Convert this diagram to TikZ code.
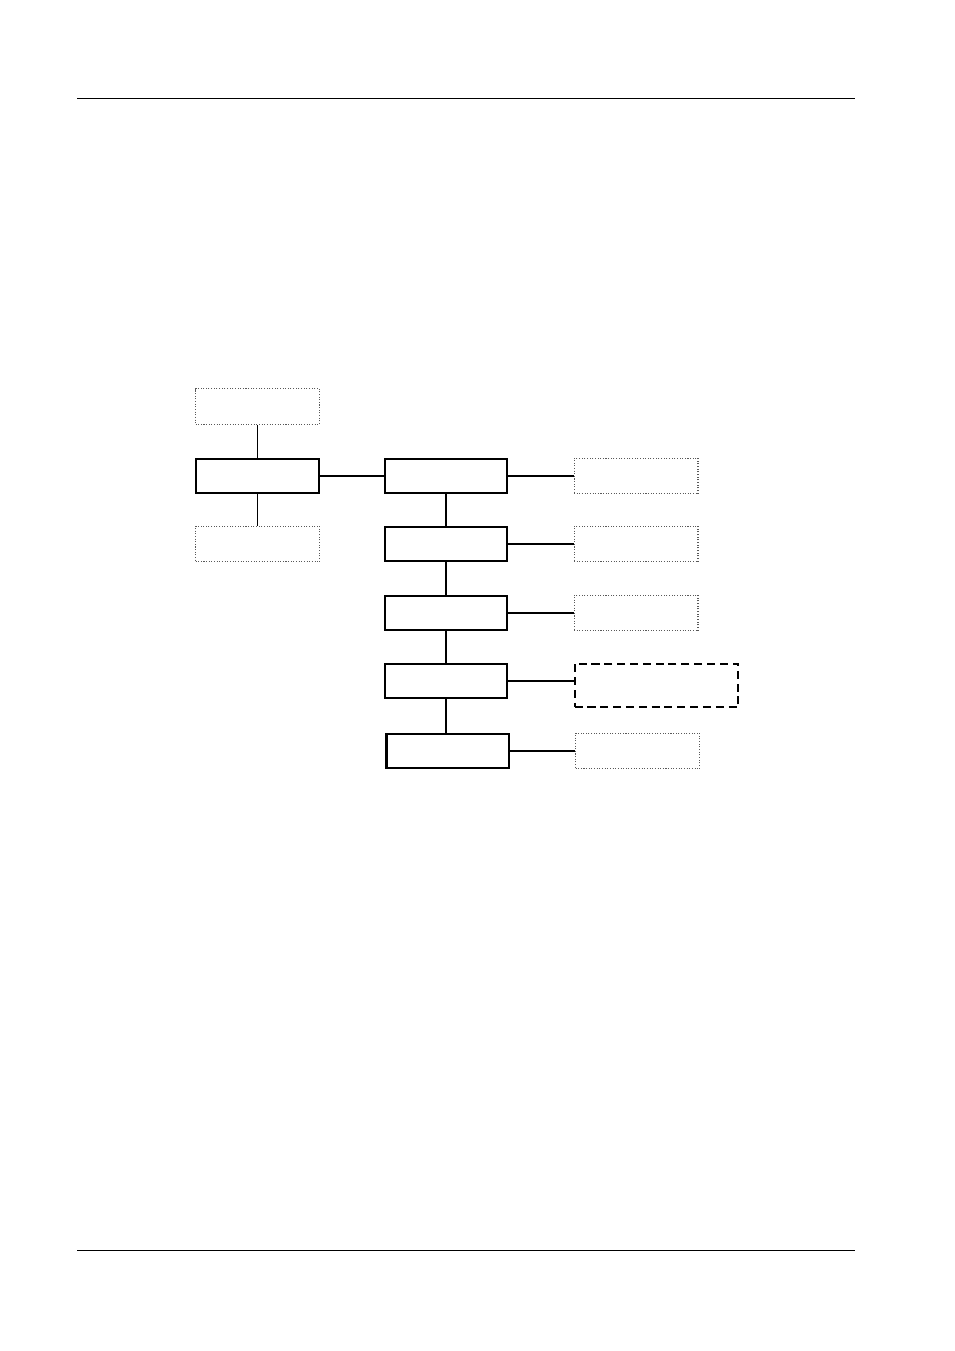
\documentclass[tikz,border=0pt]{standalone}
\begin{document}
\begin{tikzpicture}[x=0.6237pt,y=-0.6237pt,
  solidbox/.style={draw=black,line width=1.25pt,inner sep=0pt,minimum width=76.1pt,minimum height=21.4pt,fill=white},
  dotbox/.style={draw=black!65,densely dotted,line width=0.65pt,inner sep=0pt,minimum width=77.3pt,minimum height=22.4pt},
  dashbox/.style={draw=black,dashed,dash pattern=on 5pt off 3pt,line width=1.25pt,inner sep=0pt,minimum width=102.1pt,minimum height=27.3pt},
  conn/.style={draw=black,line width=0.7pt},
  rule/.style={draw=black,line width=0.7pt}]
\useasboundingbox (0,0) rectangle (954,1351);
\coordinate (rtl) at (77,98.5);
\coordinate (rtr) at (855,98.5);
\coordinate (rbl) at (77,1250.5);
\coordinate (rbr) at (855,1250.5);
\draw[rule] (rtl) -- (rtr);
\draw[rule] (rbl) -- (rbr);
% left column
\node[dotbox] (tl) at (257.5,406.5) {};
\node[solidbox] (L) at (257.5,476) {};
\node[dotbox] (bl) at (257.5,544) {};
% centre column
\node[solidbox] (c1) at (446,476) {};
\node[solidbox] (c2) at (446,544) {};
\node[solidbox] (c3) at (446,613) {};
\node[solidbox] (c4) at (446,681) {};
\node[solidbox] (c5) at (447.5,751) {};
% right column
\node[dotbox] (r1) at (636,476) {};
\node[dotbox] (r2) at (636,544) {};
\node[dotbox] (r3) at (636,613) {};
\node[dashbox] (r4) at (656.5,685.5) {};
\node[dotbox] (r5) at (637.5,751) {};
% connectors
\draw[conn] (tl.south) -- (tl.south |- L.north);
\draw[conn] (L.south) -- (L.south |- bl.north);
\draw[conn] (L.east) -- (L.east -| c1.west);
\draw[conn] (c1.south) -- (c1.south |- c2.north);
\draw[conn] (c2.south) -- (c2.south |- c3.north);
\draw[conn] (c3.south) -- (c3.south |- c4.north);
\draw[conn] (c4.south) -- (c4.south |- c5.north);
\draw[conn] (c1.east) -- (c1.east -| r1.west);
\draw[conn] (c2.east) -- (c2.east -| r2.west);
\draw[conn] (c3.east) -- (c3.east -| r3.west);
\draw[conn] (c4.east) -- (c4.east -| r4.west);
\draw[conn] (c5.east) -- (c5.east -| r5.west);
\end{tikzpicture}
\end{document}
